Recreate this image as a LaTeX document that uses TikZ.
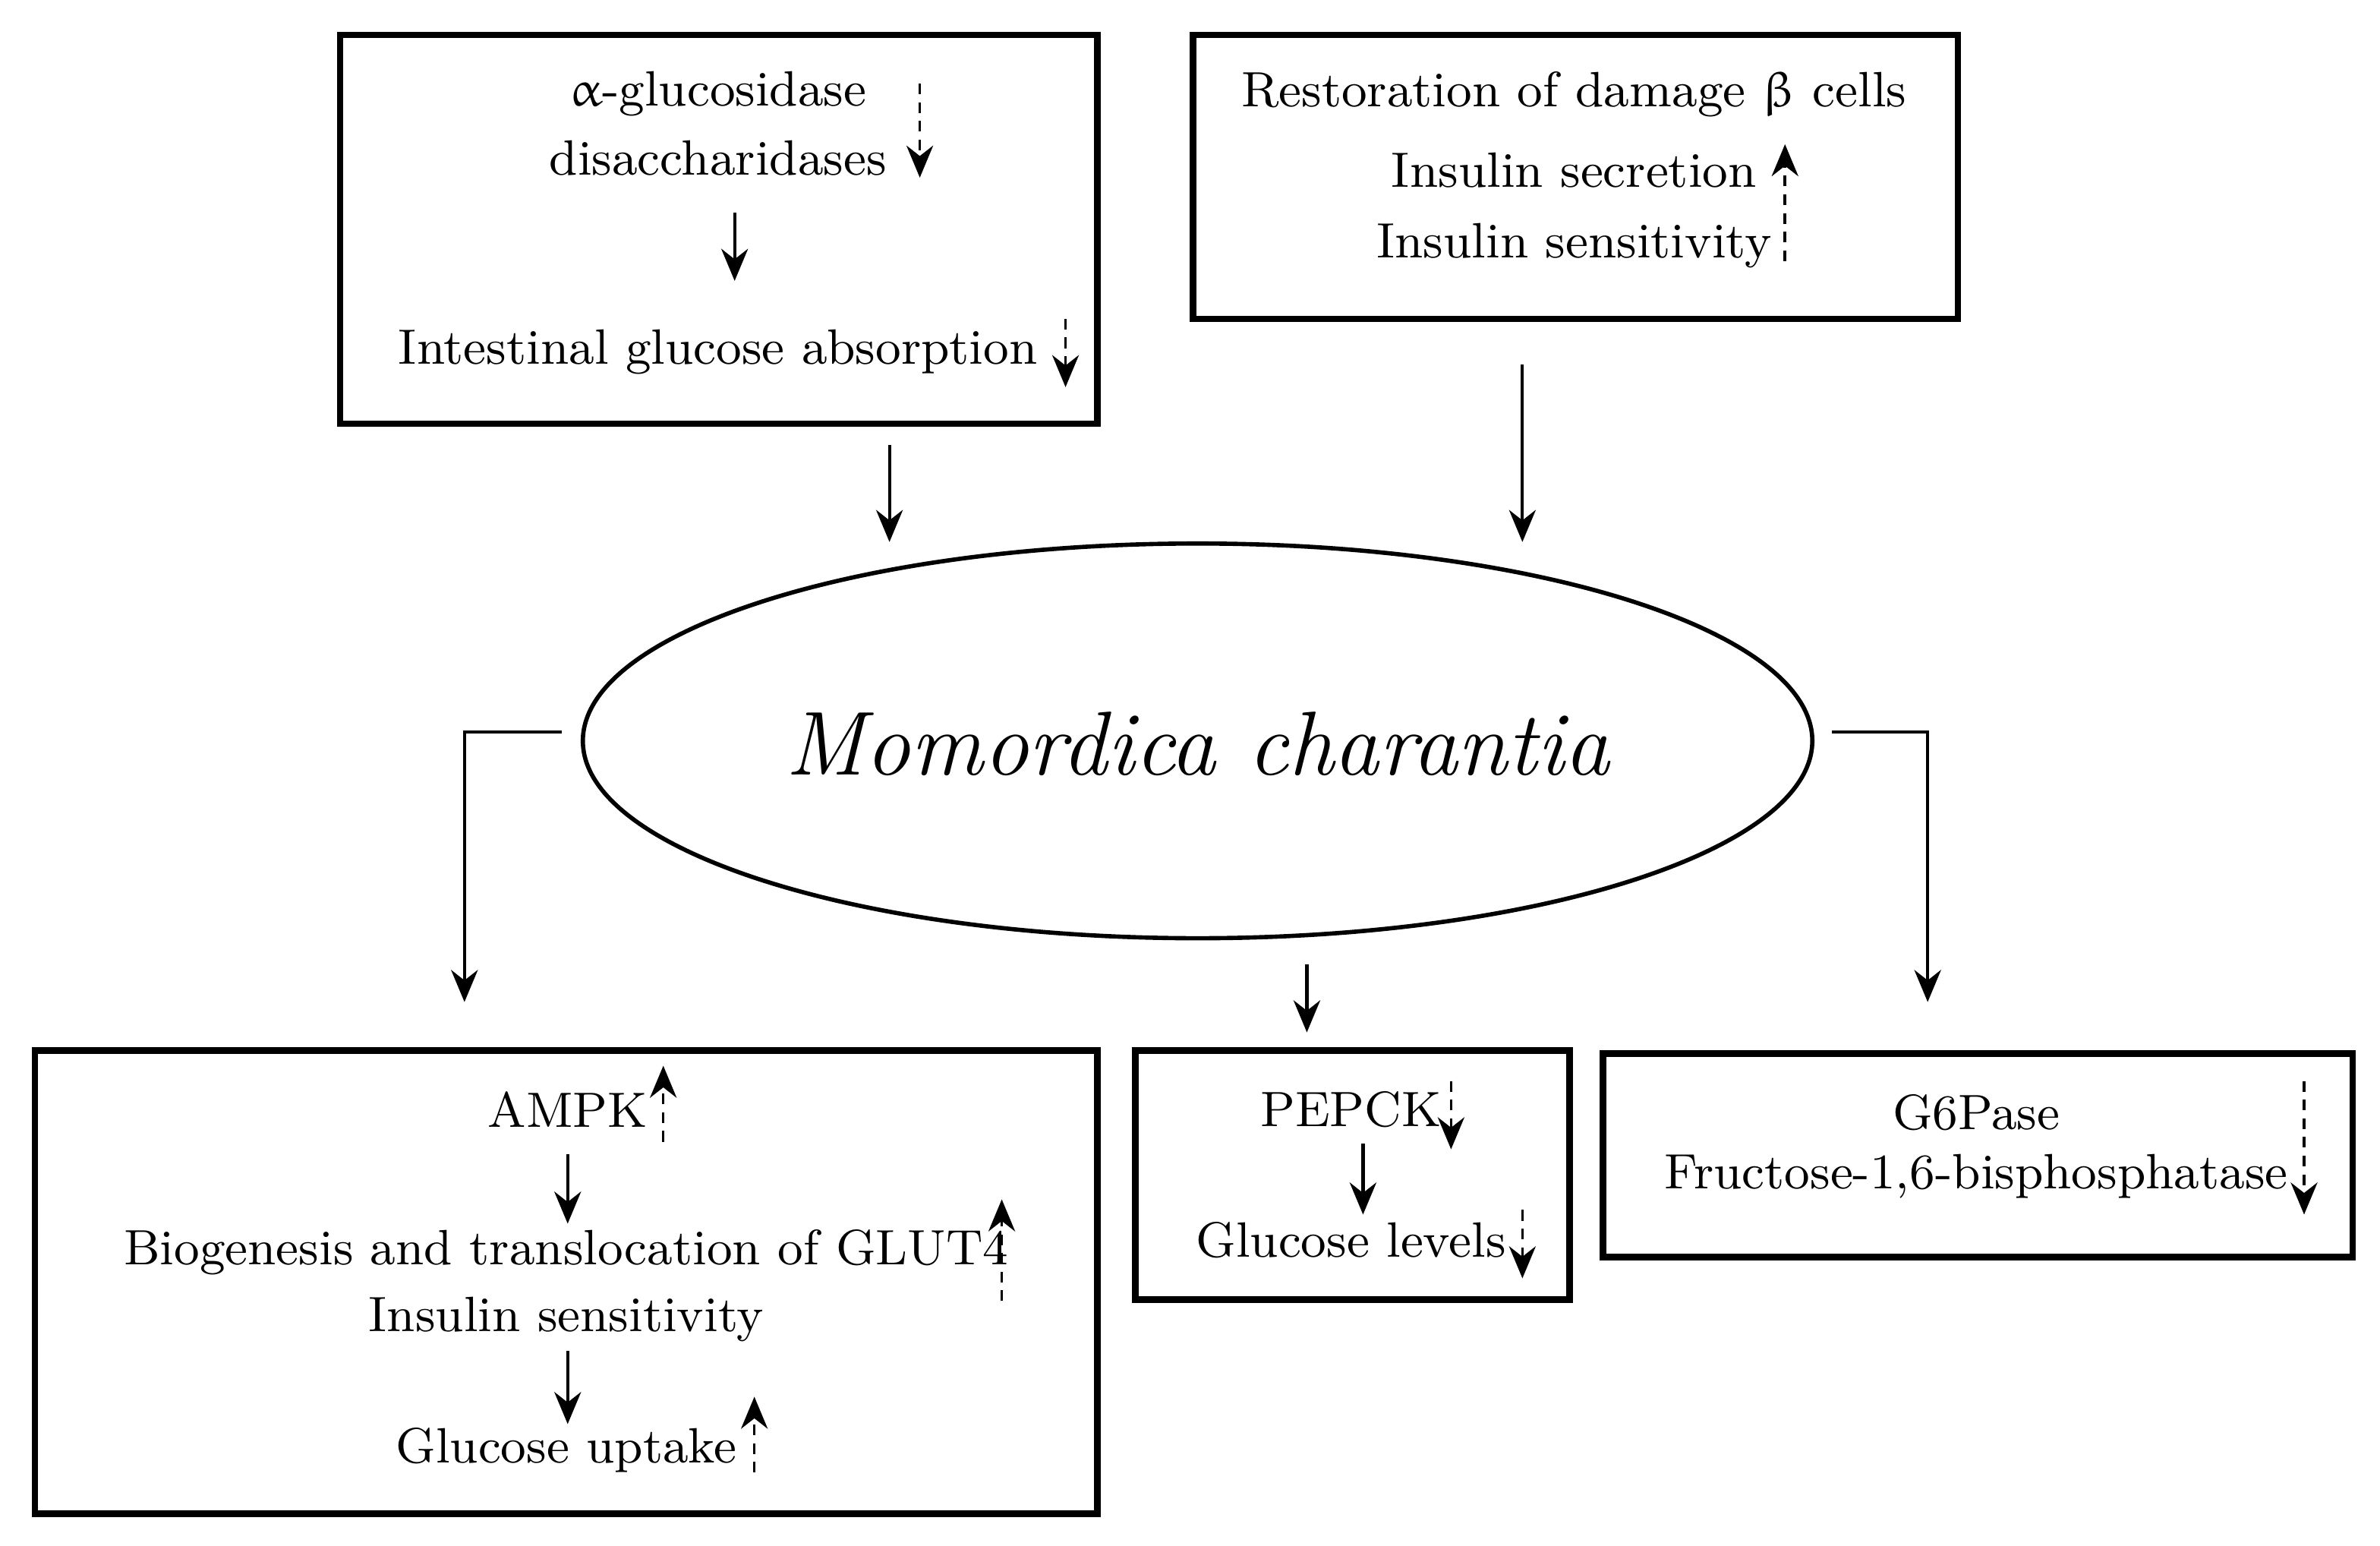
\documentclass[tikz,border=0pt]{standalone}
\usetikzlibrary{arrows.meta}
\usepackage{upgreek}
\begin{document}
\begin{tikzpicture}[x=0.01cm,y=-0.01cm,
  box/.style={draw,line width=1.2pt},
  t/.style={font=\fontsize{9.3}{11}\selectfont,inner sep=0pt},
  sa/.style={line width=0.6pt,-{Stealth[length=6pt,width=5pt]}},
  da/.style={line width=0.5pt,dashed,dash pattern=on 2pt off 1.5pt,-{Stealth[length=6pt,width=5pt]}}]
\useasboundingbox (0,0) rectangle (1568,1018);
% boxes
\draw[box] (224,23) rectangle (723,279);
\draw[box] (786,23) rectangle (1290,210);
\draw[box] (23,692) rectangle (723,997);
\draw[box] (748,692) rectangle (1034,856);
\draw[box] (1056,694) rectangle (1550,828);
\draw[line width=0.8pt] (789,488) ellipse [x radius=405, y radius=130];
\node[font=\fontsize{17}{20}\selectfont\itshape] (mc) at (789,490) {Momordica charantia};
% box1
\node[t] (ag) at (473,62) {$\upalpha$-glucosidase};
\node[t] (di) at (473,104) {disaccharidases};
\node[t] (ia) at (473,232) {Intestinal glucose absorption};
\draw[da] (606,55) -- (606,117);
\draw[sa] (484,140) -- (484,185);
\draw[da] (702,210) -- (702,255);
% box2
\node[t] (rd) at (1037,62) {Restoration of damage $\upbeta$ cells};
\node[t] (is) at (1037,112) {Insulin secretion};
\node[t] (isn) at (1037,162) {Insulin sensitivity};
\draw[da] (1176,172) -- (1176,95);
% connectors
\draw[sa] (586,293) -- (586,357);
\draw[sa] (1003,240) -- (1003,357);
\draw[sa] (370,482) -- (306,482) -- (306,660);
\draw[sa] (1207,482) -- (1270,482) -- (1270,660);
\draw[sa] (861,635) -- (861,680);
% box3
\node[t] (am) at (374,731) {AMPK};
\draw[da] (437,752) -- (437,702);
\draw[sa] (374,760) -- (374,806);
\node[t] (bg) at (373,825) {Biogenesis and translocation of GLUT4};
\draw[da] (660,857) -- (660,790);
\node[t] (is2) at (373,869) {Insulin sensitivity};
\draw[sa] (374,890) -- (374,938);
\node[t] (gu) at (373,955) {Glucose uptake};
\draw[da] (497,970) -- (497,920);
% box4
\node[t] (pe) at (890,731) {PEPCK};
\draw[da] (956,712) -- (956,757);
\draw[sa] (898,753) -- (898,800);
\node[t] (gl) at (890,817) {Glucose levels};
\draw[da] (1003,797) -- (1003,842);
% box5
\node[t] (g6) at (1302,733) {G6Pase};
\node[t] (fb) at (1302,775) {Fructose-1,6-bisphosphatase};
\draw[da] (1518,712) -- (1518,800);
\end{tikzpicture}
\end{document}
